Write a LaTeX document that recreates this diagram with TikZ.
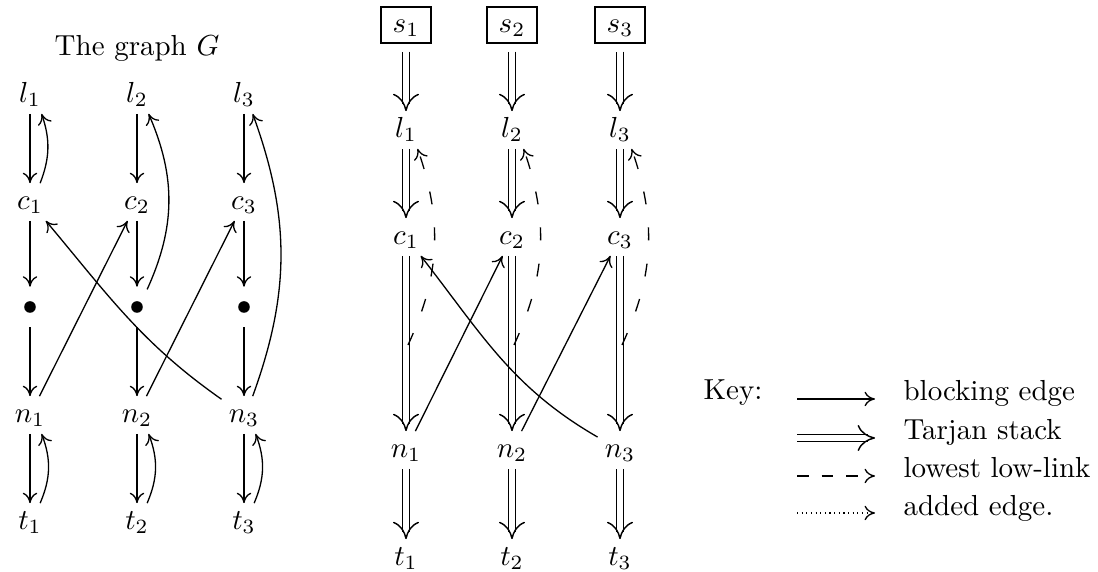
\documentclass[tikz,border=0pt]{standalone}
\usetikzlibrary{arrows.meta,decorations.markings}
\begin{document}
\begin{tikzpicture}[x=0.345pt,y=0.345pt,
  lab/.style={inner sep=1.5pt, text height=6.5pt, text depth=1.5pt, outer sep=1pt},
  blk/.style={line width=0.45pt, -{Computer Modern Rightarrow[length=3.6pt,width=5pt]}},
  tar/.style={double, double distance=1.8pt, line width=0.45pt, shorten >=2.5pt,
    postaction={decorate, decoration={markings, mark=at position 1 with {\pgfsetinnerlinewidth{0pt}\arrow[line width=0.5pt]{Computer Modern Rightarrow[length=6pt,width=9pt]}}}}},
  llk/.style={blk, dash pattern=on 4.5pt off 8pt},
  dtl/.style={blk, dash pattern=on 0.4pt off 1.2pt},
  dotv/.style={circle, fill, inner sep=0pt, minimum size=4pt, outer sep=5pt},
  sbox/.style={draw, line width=0.5pt, inner xsep=4pt, inner ysep=2.2pt, text height=6.5pt, text depth=1.5pt, outer sep=3pt},
  txt/.style={inner sep=0pt, anchor=base west}]
\useasboundingbox (0,0) rectangle (1098,-572);
% ---------- left: the graph G
\node[inner sep=0pt] (title) at (137,-48) {The graph $G$};
\foreach \i/\x in {1/30,2/137,3/244}{
  \node[lab] (l\i) at (\x,-95) {$l_\i$};
  \node[lab] (c\i) at (\x,-202) {$c_\i$};
  \node[dotv] (d\i) at (\x,-307) {};
  \node[lab] (n\i) at (\x,-415) {$n_\i$};
  \node[lab] (t\i) at (\x,-522) {$t_\i$};
  \draw[blk] (l\i) -- (c\i);
  \draw[blk] (c\i) -- (d\i);
  \draw[blk] (d\i) -- (n\i);
  \draw[blk] (n\i) -- (t\i);
  \draw[blk] ([xshift=3.5pt]t\i.north) to[bend right=22] ([xshift=4pt]n\i.south);
}
\draw[blk] ([xshift=3.5pt]c1.north) to[bend right=20] ([xshift=4pt]l1.south);
\draw[blk] (d2.60) to[bend right=24] ([xshift=4pt]l2.south);
\draw[blk] ([xshift=3pt]n3.north) to[bend right=20] ([xshift=3pt]l3.south);
\draw[blk] (n1) -- (c2);
\draw[blk] (n2) -- (c3);
\draw[blk] (n3) to[out=145,in=-50] (c1);
% ---------- middle
\foreach \i/\x in {1/406,2/512,3/620}{
  \node[sbox] (S\i) at (\x,-25) {$s_\i$};
  \node[lab] (L\i) at (\x,-130) {$l_\i$};
  \node[lab] (C\i) at (\x,-237) {$c_\i$};
  \node[lab] (N\i) at (\x,-450) {$n_\i$};
  \node[lab] (T\i) at (\x,-558) {$t_\i$};
  \coordinate (M\i) at (\x+2,-345);
  \draw[tar] (S\i) -- (L\i);
  \draw[tar] (L\i) -- (C\i);
  \draw[tar] (C\i) -- (N\i);
  \draw[tar] (N\i) -- (T\i);
  \draw[llk] (M\i) to[bend right=22] ([xshift=4pt]L\i.south);
}
\draw[blk] (N1) -- (C2);
\draw[blk] (N2) -- (C3);
\draw[blk] (N3) to[out=150,in=-52] (C1);
% ---------- key
\node[txt] (key) at (703,-400) {Key:};
\foreach \j/\y/\t in {1/401/blocking edge,2/440/Tarjan stack,3/478/lowest low-link,4/516/added edge.}{
  \node[txt] (kt\j) at (903,-\y) {\t};
}
\coordinate (ka1) at (797,-399); \coordinate (kb1) at (875,-399);
\coordinate (ka2) at (797,-438); \coordinate (kb2) at (875,-438);
\coordinate (ka3) at (797,-476); \coordinate (kb3) at (875,-476);
\coordinate (ka4) at (797,-513); \coordinate (kb4) at (875,-513);
\draw[blk] (ka1) -- (kb1);
\draw[tar] (ka2) -- (kb2);
\draw[blk, dash pattern=on 4pt off 4.5pt] (ka3) -- (kb3);
\draw[dtl] (ka4) -- (kb4);
\end{tikzpicture}
\end{document}
